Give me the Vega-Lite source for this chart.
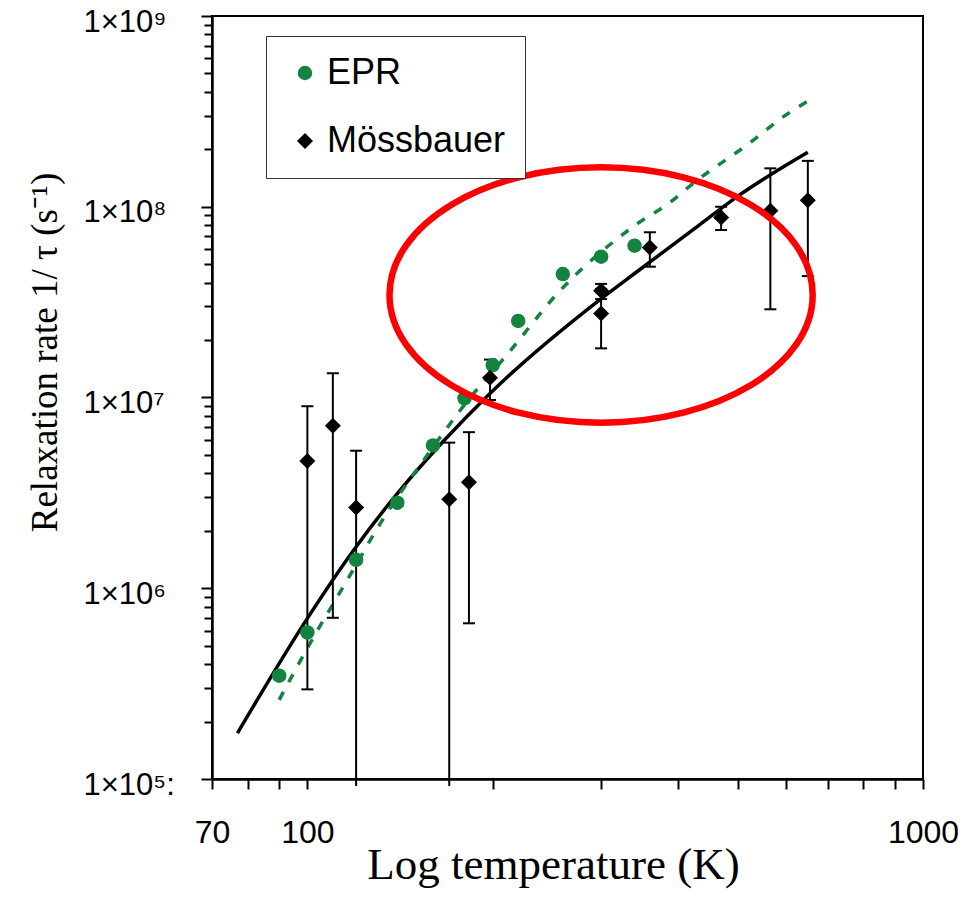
{
  "$schema": "https://vega.github.io/schema/vega-lite/v6.json",
  "width": 711,
  "height": 763,
  "autosize": {"type": "none"},
  "padding": {"left": 212, "top": 16, "right": 42, "bottom": 119},
  "background": "white",
  "datasets": {
    "points": [
      {"series": "EPR", "T": 90, "rate": 348000},
      {"series": "EPR", "T": 100, "rate": 587000},
      {"series": "EPR", "T": 120, "rate": 1410000},
      {"series": "EPR", "T": 140, "rate": 2810000},
      {"series": "EPR", "T": 160, "rate": 5610000},
      {"series": "EPR", "T": 180, "rate": 9900000},
      {"series": "EPR", "T": 200, "rate": 14800000},
      {"series": "EPR", "T": 220, "rate": 25200000},
      {"series": "EPR", "T": 260, "rate": 44400000},
      {"series": "EPR", "T": 300, "rate": 54700000},
      {"series": "EPR", "T": 340, "rate": 62500000},
      {"series": "Mössbauer", "T": 100, "rate": 4650000, "lo": 295000, "hi": 9000000},
      {"series": "Mössbauer", "T": 110, "rate": 7110000, "lo": 700000, "hi": 13400000},
      {"series": "Mössbauer", "T": 120, "rate": 2650000, "lo": 92000, "hi": 5260000},
      {"series": "Mössbauer", "T": 170, "rate": 2930000, "lo": 92000, "hi": 5800000},
      {"series": "Mössbauer", "T": 183, "rate": 3600000, "lo": 655000, "hi": 6580000},
      {"series": "Mössbauer", "T": 198, "rate": 12700000, "lo": 9700000, "hi": 15800000},
      {"series": "Mössbauer", "T": 300, "rate": 36300000, "lo": 32800000, "hi": 39400000},
      {"series": "Mössbauer", "T": 300, "rate": 27600000, "lo": 18100000, "hi": 37100000},
      {"series": "Mössbauer", "T": 360, "rate": 61200000, "lo": 48500000, "hi": 73500000},
      {"series": "Mössbauer", "T": 470, "rate": 87700000, "lo": 75500000, "hi": 100000000},
      {"series": "Mössbauer", "T": 565, "rate": 95300000, "lo": 29000000, "hi": 159000000},
      {"series": "Mössbauer", "T": 650, "rate": 108000000, "lo": 43300000, "hi": 174000000}
    ],
    "fitBlack": [
      {"T": 77, "rate": 174000},
      {"T": 100, "rate": 695000},
      {"T": 120, "rate": 1650000},
      {"T": 139, "rate": 3050000},
      {"T": 166, "rate": 5860000},
      {"T": 198, "rate": 10500000},
      {"T": 298, "rate": 32400000},
      {"T": 346, "rate": 46600000},
      {"T": 433, "rate": 80200000},
      {"T": 503, "rate": 115000000},
      {"T": 650, "rate": 193000000}
    ],
    "fitGreen": [
      {"T": 90, "rate": 260000},
      {"T": 101, "rate": 514000},
      {"T": 116, "rate": 1100000},
      {"T": 133, "rate": 2330000},
      {"T": 156, "rate": 4900000},
      {"T": 170, "rate": 7180000},
      {"T": 179, "rate": 8950000},
      {"T": 213, "rate": 17400000},
      {"T": 255, "rate": 35200000},
      {"T": 338, "rate": 78500000},
      {"T": 392, "rate": 108000000},
      {"T": 420, "rate": 130000000},
      {"T": 522, "rate": 215000000},
      {"T": 599, "rate": 303000000},
      {"T": 650, "rate": 358000000}
    ],
    "highlight": [
      {"T": 300, "rate": 34450000}
    ]
  },
  "encoding": {
    "x": {
      "field": "T",
      "type": "quantitative",
      "scale": {"type": "log", "domain": [70, 1000], "nice": false},
      "axis": {
        "values": [70, 80, 90, 100, 200, 300, 400, 500, 600, 700, 800, 900, 1000],
        "labelExpr": "(datum.value == 70 || datum.value == 100 || datum.value == 1000) ? toString(datum.value) : ''",
        "labelFont": "Liberation Sans",
        "labelFontSize": 32,
        "labelColor": "black",
        "labelPadding": 28,
        "labelFlush": false,
        "labelOverlap": false,
        "tickSize": 10,
        "tickWidth": 2,
        "tickColor": "black",
        "domainColor": "black",
        "domainWidth": 2.5,
        "grid": false,
        "title": "Log temperature (K)",
        "titleFont": "Liberation Serif",
        "titleFontSize": 45,
        "titleFontWeight": "normal",
        "titleColor": "black",
        "titleX": 341,
        "titleY": 99,
        "titleAlign": "center",
        "titleBaseline": "alphabetic"
      }
    },
    "y": {
      "field": "rate",
      "type": "quantitative",
      "scale": {"type": "log", "domain": [100000, 1000000000], "nice": false},
      "axis": {
        "values": [100000, 200000, 300000, 400000, 500000, 600000, 700000, 800000, 900000, 1000000, 2000000, 3000000, 4000000, 5000000, 6000000, 7000000, 8000000, 9000000, 10000000, 20000000, 30000000, 40000000, 50000000, 60000000, 70000000, 80000000, 90000000, 100000000, 200000000, 300000000, 400000000, 500000000, 600000000, 700000000, 800000000, 900000000, 1000000000],
        "labelExpr": "abs(log(datum.value)/LN10 - round(log(datum.value)/LN10)) < 0.001 ? '1×10' + ['⁰','¹','²','³','⁴','⁵','⁶','⁷','⁸','⁹'][round(log(datum.value)/LN10)] + (round(log(datum.value)/LN10) == 5 ? ':' : '') : ''",
        "labelFont": "Liberation Sans",
        "labelFontSize": 31,
        "labelColor": "black",
        "labelAlign": "left",
        "labelBaseline": "middle",
        "labelPadding": 118,
        "labelOffset": 6,
        "labelFlush": false,
        "labelOverlap": false,
        "tickSize": {"condition": {"test": "abs(log(datum.value)/LN10 - round(log(datum.value)/LN10)) < 0.001", "value": 11}, "value": 8},
        "tickWidth": 2,
        "tickColor": "black",
        "domainColor": "black",
        "domainWidth": 2.5,
        "grid": false,
        "title": "Relaxation rate 1/ τ (s⁻¹)",
        "titleFont": "Liberation Serif",
        "titleFontSize": 37,
        "titleFontWeight": "normal",
        "titleColor": "black",
        "titleAngle": -90,
        "titleX": -167,
        "titleY": 336,
        "titleAlign": "center",
        "titleBaseline": "middle"
      }
    }
  },
  "layer": [
    {
      "data": {"name": "fitBlack"},
      "mark": {"type": "line", "color": "black", "strokeWidth": 3.5, "interpolate": "monotone"},
      "encoding": {}
    },
    {
      "data": {"name": "fitGreen"},
      "mark": {"type": "line", "color": "#13843f", "strokeWidth": 3.5, "strokeDash": [9, 11], "interpolate": "monotone"},
      "encoding": {}
    },
    {
      "data": {"name": "points"},
      "transform": [{"filter": "datum.series == 'Mössbauer'"}],
      "mark": {"type": "rule", "color": "black", "strokeWidth": 2},
      "encoding": {
        "y": {"field": "lo", "type": "quantitative"},
        "y2": {"field": "hi"}
      }
    },
    {
      "data": {"name": "points"},
      "transform": [{"filter": "datum.series == 'Mössbauer' && datum.lo >= 100000"}],
      "mark": {"type": "tick", "orient": "horizontal", "color": "black", "size": 12, "thickness": 2, "opacity": 1},
      "encoding": {
        "y": {"field": "lo", "type": "quantitative"}
      }
    },
    {
      "data": {"name": "points"},
      "transform": [{"filter": "datum.series == 'Mössbauer'"}],
      "mark": {"type": "tick", "orient": "horizontal", "color": "black", "size": 12, "thickness": 2, "opacity": 1},
      "encoding": {
        "y": {"field": "hi", "type": "quantitative"}
      }
    },
    {
      "data": {"name": "points"},
      "mark": {"type": "point", "filled": true, "opacity": 1, "strokeWidth": 0},
      "encoding": {
        "color": {
          "field": "series",
          "type": "nominal",
          "scale": {"domain": ["EPR", "Mössbauer"], "range": ["#13843f", "black"]},
          "legend": {
            "title": null,
            "orient": "none",
            "legendX": 54,
            "legendY": 20,
            "direction": "vertical",
            "padding": 19,
            "strokeColor": "#333333",
            "fillColor": "white",
            "labelFont": "Liberation Sans",
            "labelFontSize": 36,
            "labelColor": "black",
            "labelLimit": 400,
            "labelExpr": "datum.label + '\u00a0'",
            "symbolSize": 210,
            "symbolStrokeWidth": 0,
            "rowPadding": 32,
            "symbolOffset": 2,
            "labelOffset": 4
          }
        },
        "shape": {
          "field": "series",
          "type": "nominal",
          "scale": {"domain": ["EPR", "Mössbauer"], "range": ["circle", "diamond"]},
          "legend": {
            "title": null,
            "orient": "none",
            "legendX": 54,
            "legendY": 20,
            "direction": "vertical",
            "padding": 19,
            "strokeColor": "#333333",
            "fillColor": "white",
            "labelFont": "Liberation Sans",
            "labelFontSize": 36,
            "labelColor": "black",
            "labelLimit": 400,
            "labelExpr": "datum.label + '\u00a0'",
            "symbolSize": 210,
            "symbolStrokeWidth": 0,
            "rowPadding": 32,
            "symbolOffset": 2,
            "labelOffset": 4
          }
        },
        "size": {
          "field": "series",
          "type": "nominal",
          "scale": {"domain": ["EPR", "Mössbauer"], "range": [210, 256]},
          "legend": null
        }
      }
    },
    {
      "data": {"name": "highlight"},
      "mark": {
        "type": "point",
        "shape": "M1,0 C1,0.3333 0.5523,0.6035 0,0.6035 C-0.5523,0.6035 -1,0.3333 -1,0 C-1,-0.3333 -0.5523,-0.6035 0,-0.6035 C0.5523,-0.6035 1,-0.3333 1,0 Z",
        "size": 179100,
        "filled": false,
        "fill": null,
        "stroke": "#ff0000",
        "strokeWidth": 6.5,
        "opacity": 1
      },
      "encoding": {}
    }
  ],
  "config": {
    "view": {"stroke": "black", "strokeWidth": 2}
  }
}
